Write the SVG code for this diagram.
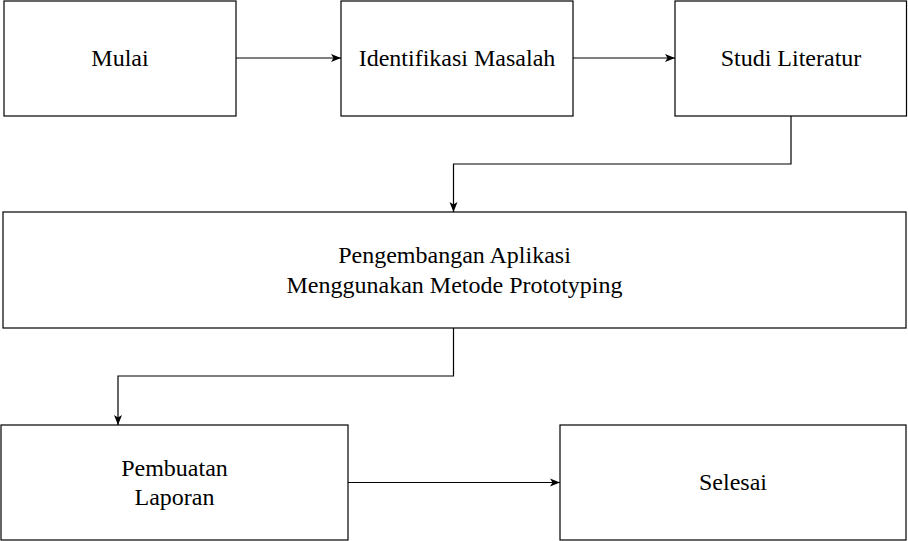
<svg xmlns="http://www.w3.org/2000/svg" width="908" height="541" viewBox="0 0 908 541">
<defs>
<style>
.box{fill:#fff;stroke:#000;stroke-width:1.2}
.lbl{font-family:'Liberation Serif','Times New Roman',serif;font-size:24px;fill:#000;text-anchor:middle}
.edge{fill:none;stroke:#000;stroke-width:1.2}
</style>
<marker id="arr" viewBox="0 0 10 10" refX="10" refY="5" markerWidth="10" markerHeight="10" markerUnits="userSpaceOnUse" orient="auto">
<path d="M0,1 L10,5 L0,9 L2.5,5 Z" fill="#000"/>
</marker>
</defs>
<rect width="908" height="541" fill="#fff"/>
<g id="connectors">
<path class="edge" d="M236,58 H341" marker-end="url(#arr)"/>
<path class="edge" d="M573,58 H675" marker-end="url(#arr)"/>
<path class="edge" d="M791,116 V164 H453.5 V212" marker-end="url(#arr)"/>
<path class="edge" d="M453.5,328 V376 H118 V425" marker-end="url(#arr)"/>
<path class="edge" d="M348,482.5 H560" marker-end="url(#arr)"/>
</g>
<g id="mulai">
<rect class="box" x="4" y="1" width="232" height="115"/>
<text class="lbl" x="120" y="66">Mulai</text>
</g>
<g id="identifikasi">
<rect class="box" x="341" y="1" width="232" height="115"/>
<text class="lbl" x="457" y="66">Identifikasi Masalah</text>
</g>
<g id="studi">
<rect class="box" x="675" y="1" width="231.5" height="115"/>
<text class="lbl" x="791" y="66">Studi Literatur</text>
</g>
<g id="pengembangan">
<rect class="box" x="3" y="212" width="903" height="116"/>
<text class="lbl" x="454.5" y="263">Pengembangan Aplikasi</text>
<text class="lbl" x="454.5" y="293">Menggunakan Metode Prototyping</text>
</g>
<g id="pembuatan">
<rect class="box" x="1" y="425" width="347" height="115"/>
<text class="lbl" x="174.5" y="476">Pembuatan</text>
<text class="lbl" x="174.5" y="505">Laporan</text>
</g>
<g id="selesai">
<rect class="box" x="560" y="425" width="346" height="115"/>
<text class="lbl" x="733" y="490">Selesai</text>
</g>
</svg>
